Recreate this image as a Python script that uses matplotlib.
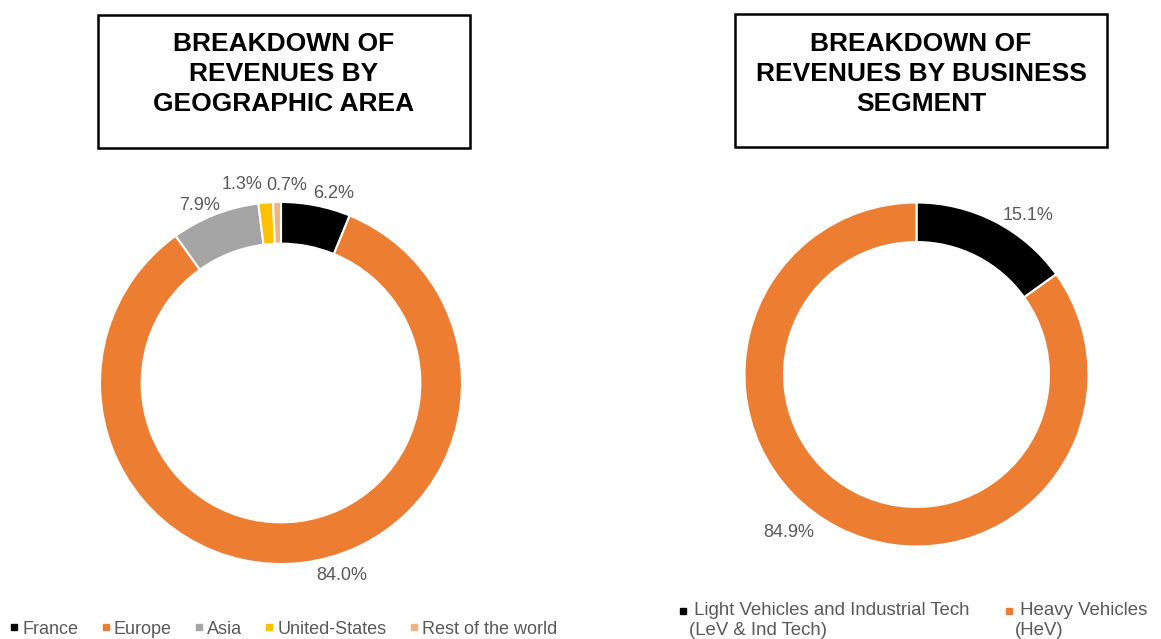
import matplotlib.pyplot as plt
from matplotlib.lines import Line2D

plt.rcParams['font.family'] = ['Liberation Sans', 'DejaVu Sans']

# datos
geo_labels = ["France", "Europe", "Asia", "United-States", "Rest of the world"]
geo_values = [6.2, 84.0, 7.9, 1.3, 0.7]
geo_colors = ["#000000", "#ED7D31", "#A5A5A5", "#FFC000", "#F4B183"]

seg_labels = [" Light Vehicles and Industrial Tech\n(LeV & Ind Tech)", " Heavy Vehicles\n(HeV)"]
seg_values = [15.1, 84.9]
seg_colors = ["#000000", "#ED7D31"]

# desplazamientos manuales de las etiquetas (como en Excel)
geo_nudge = [(0.08, -0.03), (0.21, 0.03), (-0.05, -0.045), (-0.124, 0.0), (0.058, -0.006)]
seg_nudge = [(0.146, -0.052), (-0.238, 0.062)]

W, H = 1161, 639
GRIS = "#595959"
fig = plt.figure(figsize=(W / 100, H / 100), dpi=100)
fig.patch.set_facecolor("white")

def donut(cx, cy, r, values, colors, nudge):
    ax = fig.add_axes([(cx - r) / W, 1 - (cy + r) / H, 2 * r / W, 2 * r / H])
    total = sum(values)
    wedges, texts, autotexts = ax.pie(values, colors=colors, startangle=90, counterclock=False,
                                      radius=1, autopct=lambda p: f"{p * total / 100:.1f}%",
                                      pctdistance=1.1,
                                      wedgeprops=dict(width=0.23, edgecolor="white", linewidth=1.5),
                                      textprops=dict(color=GRIS, fontsize=13))
    for t, (dx, dy) in zip(autotexts, nudge):
        x, y = t.get_position()
        t.set_position((x + dx, y + dy))
    ax.set_xlim(-1, 1)
    ax.set_ylim(-1, 1)
    ax.axis('off')
    return ax

donut(281, 383, 181, geo_values, geo_colors, geo_nudge)
donut(916.5, 374.5, 172, seg_values, seg_colors, seg_nudge)

# cajas de titulo
def title_box(x0, x1, y0, y1, text):
    box = plt.Rectangle((x0 / W, 1 - y1 / H), (x1 - x0) / W, (y1 - y0) / H,
                        transform=fig.transFigure, fill=False, edgecolor="black", linewidth=1.8)
    fig.add_artist(box)
    fig.text((x0 + x1) / 2 / W, 1 - 32 / H, text, ha="center", va="top", fontsize=19,
             fontweight="bold", linespacing=1.31, color="black")

title_box(98, 470, 15, 148, "BREAKDOWN OF\nREVENUES BY\nGEOGRAPHIC AREA")
title_box(735, 1107, 14, 147, "BREAKDOWN OF\nREVENUES BY BUSINESS\nSEGMENT")

# leyenda izquierda
h_geo = [Line2D([], [], marker='s', linestyle='none', color=c, markersize=4) for c in geo_colors]
fig.legend(h_geo, geo_labels, loc="center left", bbox_to_anchor=(9 / W, 1 - 629 / H), ncol=5,
           frameon=False, fontsize=13, labelcolor=GRIS, handlelength=0.6,
           handletextpad=0.15, columnspacing=1.2, borderaxespad=0, borderpad=0)

# leyenda derecha (marcador alineado con la primera linea, como en Excel)
for lab, col, x in zip(seg_labels, seg_colors, [683, 1009]):
    fig.add_artist(Line2D([x / W], [1 - 611 / H], marker='s', linestyle='none', color=col,
                          markersize=4, transform=fig.transFigure))
    fig.text((x + 6) / W, 1 - 602 / H, lab, ha="left", va="top", fontsize=13.4, color=GRIS,
             linespacing=1.2)

plt.savefig("out.png", dpi=100, facecolor="white")
